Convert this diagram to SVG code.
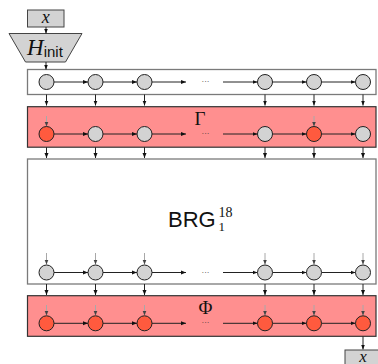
<svg xmlns="http://www.w3.org/2000/svg" width="378" height="364" viewBox="0 0 378 364">
  <defs>
    <marker id="ah" viewBox="0 0 10 10" refX="10" refY="5" markerWidth="5" markerHeight="5" markerUnits="userSpaceOnUse" orient="auto">
      <path d="M0,1 L10,5 L0,9 z" fill="#111"/>
    </marker>
    <marker id="ahg" viewBox="0 0 10 10" refX="10" refY="5" markerWidth="4.5" markerHeight="4.5" markerUnits="userSpaceOnUse" orient="auto">
      <path d="M0,1 L10,5 L0,9 z" fill="#444"/>
    </marker>
  </defs>
  <style>
    .io { fill: #d3d3d3; stroke: #444; stroke-width: 1; }
    .box-w { fill: #ffffff; stroke: #7a7a7a; stroke-width: 1.3; }
    .box-r { fill: #ff8f8f; stroke: #333; stroke-width: 1.2; }
    .n-g { fill: #d3d3d3; stroke: #222; stroke-width: 1; }
    .n-r { fill: #ff5a3e; stroke: #222; stroke-width: 1; }
    .edge { stroke: #222; stroke-width: 1; fill: none; marker-end: url(#ah); }
    .feed { stroke: #a8a8a8; stroke-width: 1; fill: none; marker-end: url(#ahg); }
    .mathi { font-family: "Liberation Serif", "DejaVu Serif", serif; font-style: italic; fill: #111; }
    .math { font-family: "Liberation Serif", "DejaVu Serif", serif; fill: #111; }
    .sans { font-family: "Liberation Sans", Arial, sans-serif; fill: #111; }
    .dots { font-family: "Liberation Sans", Arial, sans-serif; font-size: 8px; fill: #333; text-anchor: middle; }
  </style>

  <!-- input / initialisation -->
  <g id="x-in">
    <rect class="io" x="27.5" y="10" width="36.5" height="17"/>
    <text class="mathi" x="45.75" y="23" font-size="18" text-anchor="middle">x</text>
  </g>
  <g id="h-init">
    <polygon class="io" points="9,33.5 82,33.5 65.5,62 25.5,62"/>
    <text x="27" y="55"><tspan class="mathi" font-size="23">H</tspan><tspan class="sans" font-size="15" dy="2">init</tspan></text>
  </g>

  <!-- layer frames -->
  <g id="layer-top">
    <rect class="box-w" x="27.5" y="69.5" width="348.5" height="25"/>
    <text class="dots" x="205.5" y="84">···</text>
  </g>
  <g id="layer-gamma">
    <rect class="box-r" x="27.5" y="106.7" width="348.5" height="40.5"/>
    <text class="math" x="200" y="125" font-size="19" text-anchor="middle">Γ</text>
    <text class="dots" x="205.5" y="136">···</text>
  </g>
  <g id="layer-brg">
    <rect class="box-w" x="27.5" y="159" width="348.5" height="125"/>
    <text class="sans" x="168" y="226.7" font-size="22">BRG</text>
    <text class="math" x="218.5" y="217" font-size="14">18</text>
    <text class="math" x="218.5" y="231" font-size="13">1</text>
    <text class="dots" x="205.5" y="274.5">···</text>
  </g>
  <g id="layer-phi">
    <rect class="box-r" x="27.5" y="295.7" width="348.5" height="40.6"/>
    <text class="math" x="205.5" y="314" font-size="19" text-anchor="middle">Φ</text>
    <text class="dots" x="205.5" y="325.3">···</text>
  </g>

  <!-- connectors -->
  <g id="connectors">
    <line class="edge" x1="46" y1="27" x2="46" y2="33.5"/>
    <line class="edge" x1="46" y1="62" x2="46" y2="69.5"/>

    <!-- row 1 -->
    <line class="edge" x1="54" y1="82" x2="88" y2="82"/>
    <line class="edge" x1="103" y1="82" x2="137" y2="82"/>
    <line class="edge" x1="152" y1="82" x2="186" y2="82"/>
    <line class="edge" x1="223" y1="82" x2="257.5" y2="82"/>
    <line class="edge" x1="272.5" y1="82" x2="306.5" y2="82"/>
    <line class="edge" x1="321.5" y1="82" x2="355.5" y2="82"/>

    <!-- row 1 to gamma -->
    <line class="edge" x1="46.5" y1="94.5" x2="46.5" y2="105.5"/>
    <line class="edge" x1="95.5" y1="94.5" x2="95.5" y2="105.5"/>
    <line class="edge" x1="144.5" y1="94.5" x2="144.5" y2="105.5"/>
    <line class="edge" x1="265" y1="94.5" x2="265" y2="105.5"/>
    <line class="edge" x1="314" y1="94.5" x2="314" y2="105.5"/>
    <line class="edge" x1="363" y1="94.5" x2="363" y2="105.5"/>

    <!-- gamma row -->
    <line class="feed" x1="46.5" y1="116" x2="46.5" y2="126.5"/>
    <line class="feed" x1="314" y1="116" x2="314" y2="126.5"/>
    <line class="edge" x1="54" y1="134" x2="88" y2="134"/>
    <line class="edge" x1="103" y1="134" x2="137" y2="134"/>
    <line class="edge" x1="152" y1="134" x2="186" y2="134"/>
    <line class="edge" x1="223" y1="134" x2="257.5" y2="134"/>
    <line class="edge" x1="272.5" y1="134" x2="306.5" y2="134"/>
    <line class="edge" x1="321.5" y1="134" x2="355.5" y2="134"/>

    <!-- gamma to BRG -->
    <line class="edge" x1="46.5" y1="147.2" x2="46.5" y2="158"/>
    <line class="edge" x1="95.5" y1="147.2" x2="95.5" y2="158"/>
    <line class="edge" x1="144.5" y1="147.2" x2="144.5" y2="158"/>
    <line class="edge" x1="265" y1="147.2" x2="265" y2="158"/>
    <line class="edge" x1="314" y1="147.2" x2="314" y2="158"/>
    <line class="edge" x1="363" y1="147.2" x2="363" y2="158"/>

    <!-- BRG row -->
    <line class="feed" x1="46.5" y1="253" x2="46.5" y2="264.5"/>
    <line class="feed" x1="95.5" y1="253" x2="95.5" y2="264.5"/>
    <line class="feed" x1="144.5" y1="253" x2="144.5" y2="264.5"/>
    <line class="feed" x1="265" y1="253" x2="265" y2="264.5"/>
    <line class="feed" x1="314" y1="253" x2="314" y2="264.5"/>
    <line class="feed" x1="363" y1="253" x2="363" y2="264.5"/>
    <line class="edge" x1="54" y1="272.5" x2="88" y2="272.5"/>
    <line class="edge" x1="103" y1="272.5" x2="137" y2="272.5"/>
    <line class="edge" x1="152" y1="272.5" x2="186" y2="272.5"/>
    <line class="edge" x1="223" y1="272.5" x2="257.5" y2="272.5"/>
    <line class="edge" x1="272.5" y1="272.5" x2="306.5" y2="272.5"/>
    <line class="edge" x1="321.5" y1="272.5" x2="355.5" y2="272.5"/>

    <!-- BRG to phi -->
    <line class="edge" x1="46.5" y1="284" x2="46.5" y2="295"/>
    <line class="edge" x1="95.5" y1="284" x2="95.5" y2="295"/>
    <line class="edge" x1="144.5" y1="284" x2="144.5" y2="295"/>
    <line class="edge" x1="265" y1="284" x2="265" y2="295"/>
    <line class="edge" x1="314" y1="284" x2="314" y2="295"/>
    <line class="edge" x1="363" y1="284" x2="363" y2="295"/>

    <!-- phi row -->
    <line class="feed" x1="46.5" y1="305" x2="46.5" y2="315.5"/>
    <line class="feed" x1="95.5" y1="305" x2="95.5" y2="315.5"/>
    <line class="feed" x1="144.5" y1="305" x2="144.5" y2="315.5"/>
    <line class="feed" x1="265" y1="305" x2="265" y2="315.5"/>
    <line class="feed" x1="314" y1="305" x2="314" y2="315.5"/>
    <line class="feed" x1="363" y1="305" x2="363" y2="315.5"/>
    <line class="edge" x1="54" y1="323.3" x2="88" y2="323.3"/>
    <line class="edge" x1="103" y1="323.3" x2="137" y2="323.3"/>
    <line class="edge" x1="152" y1="323.3" x2="186" y2="323.3"/>
    <line class="edge" x1="223" y1="323.3" x2="257.5" y2="323.3"/>
    <line class="edge" x1="272.5" y1="323.3" x2="306.5" y2="323.3"/>
    <line class="edge" x1="321.5" y1="323.3" x2="355.5" y2="323.3"/>

    <!-- output -->
    <line class="edge" x1="363" y1="336.3" x2="363" y2="349.5"/>
  </g>

  <!-- row 1 nodes -->
  <g id="t1"><circle class="n-g" cx="46.5" cy="82" r="7.5"/></g>
  <g id="t2"><circle class="n-g" cx="95.5" cy="82" r="7.5"/></g>
  <g id="t3"><circle class="n-g" cx="144.5" cy="82" r="7.5"/></g>
  <g id="t4"><circle class="n-g" cx="265" cy="82" r="7.5"/></g>
  <g id="t5"><circle class="n-g" cx="314" cy="82" r="7.5"/></g>
  <g id="t6"><circle class="n-g" cx="363" cy="82" r="7.5"/></g>

  <!-- gamma nodes -->
  <g id="g1"><circle class="n-r" cx="46.5" cy="134" r="7.5"/></g>
  <g id="g2"><circle class="n-g" cx="95.5" cy="134" r="7.5"/></g>
  <g id="g3"><circle class="n-g" cx="144.5" cy="134" r="7.5"/></g>
  <g id="g4"><circle class="n-g" cx="265" cy="134" r="7.5"/></g>
  <g id="g5"><circle class="n-r" cx="314" cy="134" r="7.5"/></g>
  <g id="g6"><circle class="n-g" cx="363" cy="134" r="7.5"/></g>

  <!-- BRG nodes -->
  <g id="b1"><circle class="n-g" cx="46.5" cy="272.5" r="7.5"/></g>
  <g id="b2"><circle class="n-g" cx="95.5" cy="272.5" r="7.5"/></g>
  <g id="b3"><circle class="n-g" cx="144.5" cy="272.5" r="7.5"/></g>
  <g id="b4"><circle class="n-g" cx="265" cy="272.5" r="7.5"/></g>
  <g id="b5"><circle class="n-g" cx="314" cy="272.5" r="7.5"/></g>
  <g id="b6"><circle class="n-g" cx="363" cy="272.5" r="7.5"/></g>

  <!-- phi nodes -->
  <g id="p1"><circle class="n-r" cx="46.5" cy="323.3" r="7.5"/></g>
  <g id="p2"><circle class="n-r" cx="95.5" cy="323.3" r="7.5"/></g>
  <g id="p3"><circle class="n-r" cx="144.5" cy="323.3" r="7.5"/></g>
  <g id="p4"><circle class="n-r" cx="265" cy="323.3" r="7.5"/></g>
  <g id="p5"><circle class="n-r" cx="314" cy="323.3" r="7.5"/></g>
  <g id="p6"><circle class="n-r" cx="363" cy="323.3" r="7.5"/></g>

  <!-- output -->
  <g id="x-out">
    <rect class="io" x="345" y="350" width="36" height="17"/>
    <text class="mathi" x="363" y="361.5" font-size="17" text-anchor="middle">x</text>
  </g>
</svg>
